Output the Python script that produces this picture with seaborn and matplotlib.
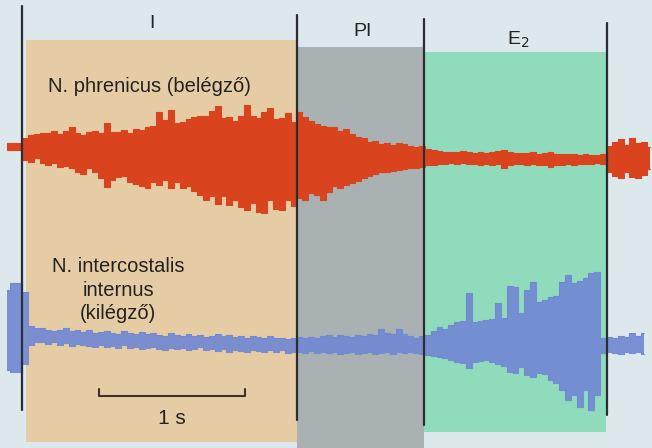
import numpy as np
import pandas as pd
import matplotlib
matplotlib.use("Agg")
import matplotlib.pyplot as plt
import seaborn as sns

# ---------------- data ----------------
phase_names = ["I", "PI", "E$_2$"]
phase_start = [0.03, 1.884, 2.753]          # s
phase_end = [1.884, 2.753, 4.00]            # s
phase_lines = [0.0, 1.884, 2.753, 4.007]    # s, phase boundaries

# sampled envelope of the two nerve recordings, every 0.04 s from -0.10 s
dt = 0.04
t0 = -0.10
red_hi = [12, 12, 12, 17, 20, 21, 22, 22, 24, 21,
          24, 28, 22, 20, 23, 24, 22, 32, 23, 23,
          25, 22, 26, 25, 28, 29, 43, 35, 45, 32,
          33, 36, 38, 39, 39, 44, 49, 37, 38, 34,
          39, 50, 39, 37, 43, 47, 36, 37, 42, 33,
          43, 38, 34, 31, 29, 28, 28, 24, 26, 21,
          18, 17, 13, 14, 11, 12, 10, 12, 11, 9,
          8, 9, 6, 5, 4, 3, 3, 3, 4, 3,
          2, 3, 2, 3, 4, 5, 3, 2, 2, 2,
          3, 1, 2, 3, 1, 1, 1, 1, 0, 1,
          0, 0, 1, 9, 13, 16, 10, 17, 12, 13,
          8]
red_lo = [5, 5, 5, -5, -7, -3, -8, -10, -8, -12,
          -11, -13, -17, -19, -13, -17, -23, -32, -25, -22,
          -21, -27, -29, -31, -33, -27, -30, -25, -33, -27,
          -33, -31, -36, -40, -45, -41, -49, -41, -50, -45,
          -52, -55, -48, -57, -58, -45, -54, -55, -45, -51,
          -43, -45, -38, -40, -45, -37, -31, -33, -30, -28,
          -26, -23, -21, -19, -17, -17, -16, -15, -14, -13,
          -13, -12, -10, -10, -9, -9, -8, -9, -8, -9,
          -9, -10, -9, -10, -9, -13, -10, -9, -9, -10,
          -9, -10, -10, -12, -10, -10, -9, -10, -9, -9,
          -9, -8, -9, -17, -21, -23, -17, -22, -23, -20,
          -14]
blue_hi = [53, 60, 60, 51, 17, 15, 15, 13, 12, 13,
           15, 12, 13, 11, 13, 10, 11, 12, 10, 9,
           12, 10, 9, 11, 9, 10, 8, 7, 10, 8,
           7, 9, 7, 8, 6, 7, 9, 7, 8, 6,
           7, 5, 7, 6, 5, 7, 5, 5, 4, 5,
           6, 5, 6, 5, 7, 8, 6, 8, 7, 6,
           8, 7, 9, 8, 14, 10, 9, 14, 9, 7,
           5, 7, 8, 12, 16, 14, 18, 21, 22, 50,
           21, 22, 23, 24, 40, 25, 57, 56, 30, 53,
           61, 41, 43, 46, 47, 61, 68, 60, 62, 65,
           70, 71, 5, 6, 5, 7, 6, 10, 7, 10,
           np.nan]
blue_lo = [-27, -29, -29, -21, -2, 1, 1, -1, 1, -2,
           0, -3, -1, -2, -3, -4, -2, -4, -3, -5,
           -2, -5, -4, -6, -5, -4, -6, -7, -5, -6,
           -5, -7, -6, -4, -7, -6, -8, -6, -9, -7,
           -8, -9, -7, -8, -9, -7, -9, -7, -10, -9,
           -9, -10, -8, -10, -9, -10, -9, -11, -10, -9,
           -11, -10, -9, -11, -10, -9, -11, -9, -10, -9,
           -10, -11, -12, -13, -14, -15, -17, -19, -20, -25,
           -19, -18, -17, -19, -21, -23, -29, -30, -24, -32,
           -34, -30, -31, -37, -40, -47, -57, -52, -64, -47,
           -67, -52, -10, -9, -10, -11, -9, -10, -9, -11,
           np.nan]

scale_bar_len = 1.0   # s
scale_bar_label = "1 s"
red_label = "N. phrenicus (belégző)"
blue_label = "N. intercostalis\ninternus\n(kilégző)"

# ---------------- style ----------------
bg_col = "#dde8ec"
phase_cols = ["#e6cca5", "#a9b1b3", "#8fdbbb"]
red_col = "#d9441e"
blue_col = "#7189d3"
line_col = "#2a2e33"

sns.set_theme(style="white")
plt.rcParams["font.family"] = ["Liberation Sans Narrow", "Liberation Sans", "DejaVu Sans"]

fig = plt.figure(figsize=(6.52, 4.48), dpi=100)
fig.patch.set_facecolor(bg_col)
ax = fig.add_axes([0, 0, 1, 1])
ax.set_facecolor(bg_col)
ax.set_xlim(-22 / 146, 630 / 146)
ax.set_ylim(0, 448)
ax.set_axis_off()

# phase regions (top/bottom in figure units)
reg_bottom = [6, 0, 16]
reg_top = [408, 401, 396]
for s, e, b, tp, c in zip(phase_start, phase_end, reg_bottom, reg_top, phase_cols):
    ax.fill_between([s, e], [b, b], [tp, tp], color=c, lw=0, zorder=1)

# traces
n = len(red_hi)
t = np.round(t0 + dt * np.arange(n), 3)
df = pd.DataFrame({"t": t, "red_hi": red_hi, "red_lo": red_lo,
                   "blue_hi": blue_hi, "blue_lo": blue_lo})
red_base, blue_base = 293, 105

ax.fill_between(df.t, red_base + df.red_lo, red_base + df.red_hi,
                step="mid", color=red_col, lw=0, zorder=3)
ax.fill_between(df.t, blue_base + df.blue_lo, blue_base + df.blue_hi,
                step="mid", color=blue_col, lw=0, alpha=0.92, zorder=3)
for col, base, c, a in [("red_hi", red_base, red_col, 1), ("red_lo", red_base, red_col, 1),
                        ("blue_hi", blue_base, blue_col, 0.92), ("blue_lo", blue_base, blue_col, 0.92)]:
    sns.lineplot(x=df.t, y=base + df[col], ax=ax, color=c, lw=0.8, alpha=a,
                 drawstyle="steps-mid", zorder=3, legend=False)

# phase boundary lines
line_bot = [38, 28, 23, 33]
line_top = [442, 433, 429, 425]
for x, b, tp in zip(phase_lines, line_bot, line_top):
    ax.plot([x, x], [b, tp], color=line_col, lw=1.6, zorder=5)

# phase labels
lab_x = [0.89, 2.336, 3.397]
lab_y = [425, 417, 408]
for name, x, y in zip(phase_names, lab_x, lab_y):
    ax.text(x, y, name, ha="center", va="center", fontsize=14, color="#222222", zorder=6)

# trace labels
ax.text(0.178, 362, red_label, ha="left", va="center", fontsize=14.5, color="#222222", zorder=6)
ax.text(0.658, 158, blue_label, ha="center", va="center", fontsize=14.5, color="#222222",
        linespacing=1.3, zorder=6)

# scale bar
sb_x0 = 0.527
sb_y = 52
ax.plot([sb_x0, sb_x0, sb_x0 + scale_bar_len, sb_x0 + scale_bar_len],
        [sb_y + 7, sb_y, sb_y, sb_y + 7], color="#3a3326", lw=1.5, zorder=6)
ax.text(sb_x0 + scale_bar_len / 2, 30, scale_bar_label, ha="center", va="center",
        fontsize=15, color="#222222", zorder=6)

fig.savefig("out.png", dpi=100, facecolor=bg_col)
